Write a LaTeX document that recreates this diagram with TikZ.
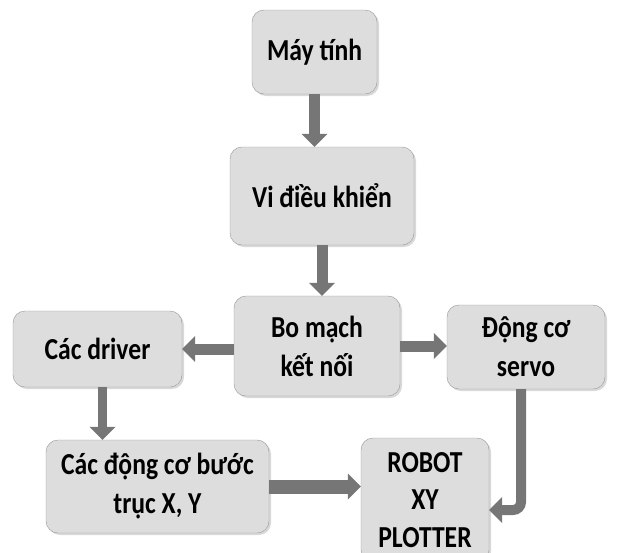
\documentclass[tikz,border=0pt]{standalone}
\usepackage{fontspec}
\setmainfont[FakeStretch=0.84]{Carlito}
\usetikzlibrary{arrows.meta,shadows}
\definecolor{boxfill}{RGB}{221,221,221}
\definecolor{boxline}{RGB}{150,150,150}
\definecolor{arrowgray}{RGB}{118,118,118}
\tikzstyle{block}=[draw=boxline,fill=boxfill,rounded corners=12pt,align=center,
  font=\fontsize{30.5}{39}\selectfont\bfseries,inner sep=2pt,
  drop shadow={opacity=0.3,shadow xshift=2pt,shadow yshift=-2pt}]
\tikzstyle{flow}=[draw=arrowgray,line width=11pt,
  -{Triangle[length=13pt,width=26pt,line width=0pt]}]

\begin{document}
\begin{tikzpicture}[x=1pt,y=-1pt]
    \useasboundingbox (0,0) rectangle (617,552);
    % First we draw the blocks
    \node[block,minimum width=125pt,minimum height=84pt] (pc) at (314.5,52) {Máy tính};
    \node[block,minimum width=184pt,minimum height=98pt] (mcu) at (322,196) {Vi điều khiển};
    \node[block,minimum width=166pt,minimum height=100pt] (board) at (317,346) {Bo mạch\\kết nối};
    \node[block,minimum width=169pt,minimum height=76pt] (driver) at (97.5,349) {Các driver};
    \node[block,minimum width=158pt,minimum height=84pt] (servo) at (526,347) {Động cơ\\servo};
    \node[block,minimum width=223pt,minimum height=93pt] (stepper) at (157.5,486.5) {Các động cơ bước\\trục X, Y};
    \node[block,minimum width=128pt,minimum height=124pt,font=\fontsize{30.5}{37.5}\selectfont\bfseries] (robot) at (425,500) {ROBOT\\XY\\PLOTTER};
    % Connect blocks with arrows
    \path[flow] (pc.south) -- (pc.south |- mcu.north);
    \path[flow] (mcu.south) -- (mcu.south |- board.north);
    \path[flow] (board.west |- driver) -- (driver.east);
    \path[flow] (board.east) -- (servo.west |- board.east);
    \path[flow,line width=9pt] ([xshift=5pt]driver.south) -- ([xshift=5pt]driver.south |- stepper.north);
    \path[flow,line width=14pt] (stepper.east) -- (stepper.east -| robot.west);
    \path[flow,line width=10pt,rounded corners=8pt] ([xshift=-5pt]servo.south) |- ([yshift=-10pt]robot.east);
\end{tikzpicture}
\end{document}
